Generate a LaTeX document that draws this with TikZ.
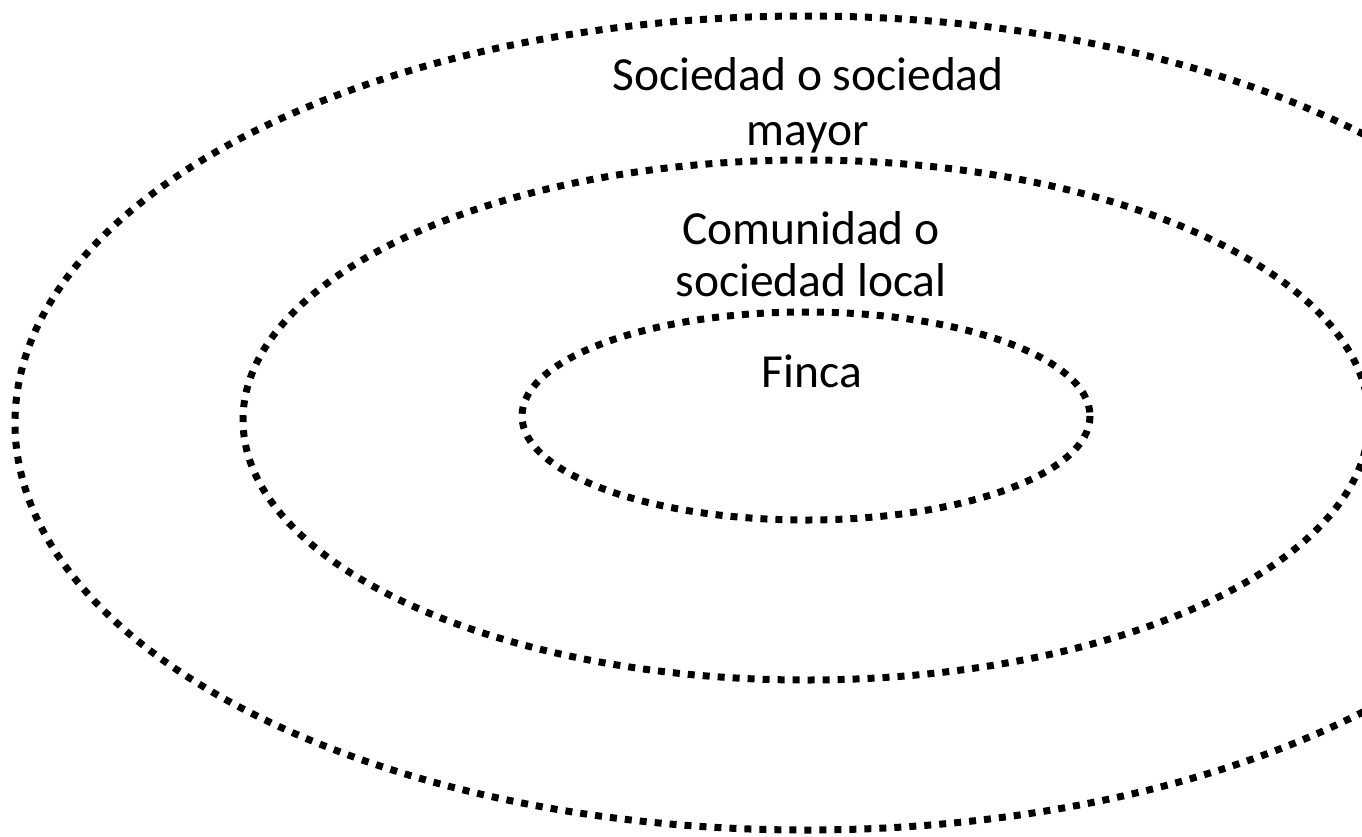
\documentclass[tikz,border=0pt]{standalone}
\usepackage{fontspec}
\setmainfont{Carlito}
\begin{document}
\begin{tikzpicture}[x=1pt,y=-1pt,
  ring/.style={draw=black,line width=7pt,dash pattern=on 7pt off 8pt},
  lbl/.style={align=center,font=\fontsize{47.5}{55}\selectfont,inner sep=0pt,anchor=base}]
\useasboundingbox (0,0) rectangle (1362,836);
\clip (0,0) rectangle (1362,836);
\draw[ring] (806,423) ellipse [x radius=791, y radius=407];
\draw[ring] (806,420) ellipse [x radius=563, y radius=260];
\draw[ring] (806,416) ellipse [x radius=284, y radius=104];
\node[lbl] (outer) at (808,145) {Sociedad o sociedad\\mayor};
\node[lbl,font=\fontsize{47.5}{52}\selectfont] (middle) at (811,296) {Comunidad o\\sociedad local};
\node[lbl] (inner) at (812,387) {Finca};
\end{tikzpicture}
\end{document}
